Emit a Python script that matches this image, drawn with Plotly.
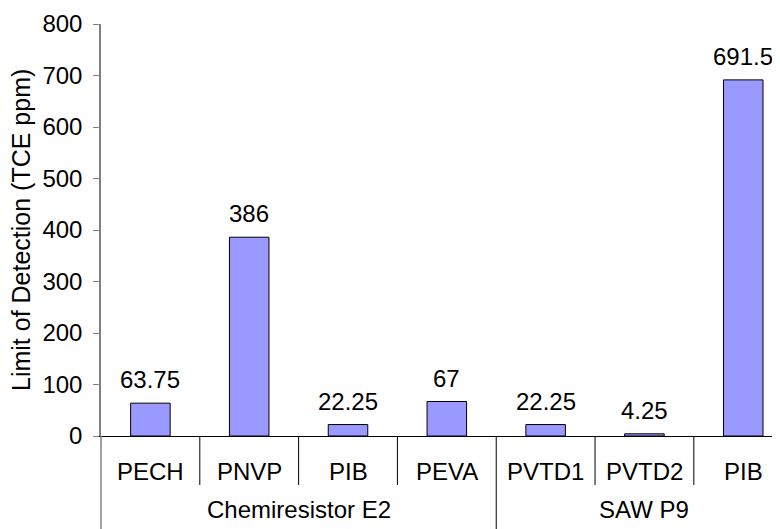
import plotly.graph_objects as go

categories = ["PECH", "PNVP", "PIB", "PEVA", "PVTD1", "PVTD2", "PIB"]
groups = ["Chemiresistor E2", "SAW P9"]
group_sizes = [4, 3]
values = [63.75, 386, 22.25, 67, 22.25, 4.25, 691.5]
value_labels = ["63.75", "386", "22.25", "67", "22.25", "4.25", "691.5"]
y_ticks = [0, 100, 200, 300, 400, 500, 600, 700, 800]

FONT = "Liberation Sans, Arial, sans-serif"
FS = 24
# page body has an 8px margin, so the figure is offset by 8px
ML, MT, MR, MB = 93, 16, 0, 101
PLOT_H = 529 - MT - MB
xmin, xmax = -0.5, 6.453

idx = list(range(len(categories)))

fig = go.Figure(go.Bar(
    x=idx, y=values, width=0.4,
    marker=dict(color="#9999FF", line=dict(color="black", width=1)),
    hoverinfo="skip",
))

def px_to_paper_y(px_below):
    return -px_below / PLOT_H

def xpaper(v):
    return (v - xmin) / (xmax - xmin)

annotations = []
for i, (v, lab) in enumerate(zip(values, value_labels)):
    annotations.append(dict(x=i, y=v, xref="x", yref="y", text=lab, showarrow=False,
                            yanchor="bottom", yshift=8, font=dict(size=FS, color="black", family=FONT)))
for i, c in enumerate(categories):
    annotations.append(dict(x=i, y=px_to_paper_y(35), xref="x", yref="paper", text=c, showarrow=False,
                            yanchor="middle", font=dict(size=FS, color="black", family=FONT)))

shapes = []
start = 0
for g, n in zip(groups, group_sizes):
    center = start + (n - 1) / 2
    annotations.append(dict(x=center, y=px_to_paper_y(73), xref="x", yref="paper", text=g, showarrow=False,
                            yanchor="middle", font=dict(size=FS, color="black", family=FONT)))
    for k in range(start, start + n - 1):
        xp = xpaper(k + 0.5)
        shapes.append(dict(type="line", xref="paper", yref="paper", x0=xp, x1=xp,
                           y0=0, y1=px_to_paper_y(49), line=dict(color="black", width=1)))
    xp = xpaper(start - 0.5)
    shapes.append(dict(type="line", xref="paper", yref="paper", x0=xp, x1=xp,
                       y0=0, y1=px_to_paper_y(MB), line=dict(color="#808080" if start == 0 else "black",
                                                             width=1.5 if start == 0 else 1)))
    start += n

annotations.append(dict(x=0, y=0.5, xref="paper", yref="paper", xshift=-80,
                        text="Limit of Detection (TCE ppm)", textangle=-90, showarrow=False,
                        xanchor="center", yanchor="middle", font=dict(size=25, color="black", family=FONT)))

fig.update_layout(
    width=780, height=529,
    margin=dict(l=ML, r=MR, t=MT, b=MB),
    paper_bgcolor="white", plot_bgcolor="white",
    showlegend=False,
    font=dict(family=FONT, size=FS, color="black"),
    xaxis=dict(range=[xmin, xmax], showticklabels=False, showgrid=False, zeroline=False,
               showline=True, linecolor="black", linewidth=1, ticks=""),
    yaxis=dict(range=[0, 800], tickvals=y_ticks, showgrid=False, zeroline=False, automargin=False,
               showline=True, linecolor="#808080", linewidth=1.5, ticks="outside", ticklen=6,
               ticklabelstandoff=6,
               tickcolor="#808080", tickfont=dict(size=FS, color="black", family=FONT)),
    annotations=annotations,
    shapes=shapes,
)

fig.write_html("out.html")
